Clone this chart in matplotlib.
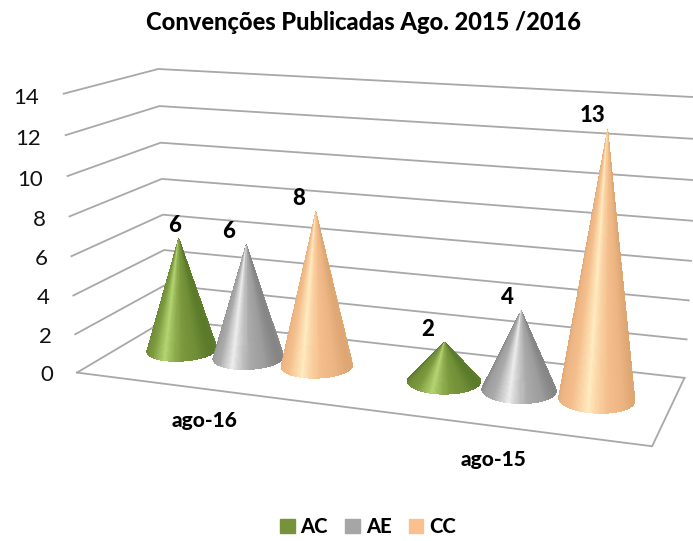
import numpy as np
import matplotlib
matplotlib.use("Agg")
import matplotlib.pyplot as plt
from matplotlib.patches import Patch
from mpl_toolkits.mplot3d import proj3d

plt.rcParams["font.family"] = ["Lato", "DejaVu Sans"]

# data
categories = ["ago-16", "ago-15"]
series_names = ["AC", "AE", "CC"]
ac_values = [6, 2]
ae_values = [6, 4]
cc_values = [8, 13]
z_ticks = [0, 2, 4, 6, 8, 10, 12, 14]

legend_colors = ["#76933C", "#A6A6A6", "#FAC090"]
# dark edge, body, highlight of every cone
shades = [("#5B7A2A", "#7C9A3E", "#B4D472"),
          ("#858585", "#ABABAB", "#EDEDED"),
          ("#DDA673", "#F5BF8D", "#FFEBC0")]
# labels do not sit exactly over the tips, offset in points per category/series
label_nudge = [[-3, -13, -12], [-12, -10, -11]]
category_nudge = [0.12, 0.074]


def to_rgb(c):
    return np.array(matplotlib.colors.to_rgb(c))


def cone(ax, x, y, height, rx, ry, shade, zorder):
    theta = np.linspace(0, 2 * np.pi, 181)
    s = np.array([0.0, 1.0])
    T, S = np.meshgrid(theta, s)
    X = x + rx * (1 - S) * np.cos(T)
    Y = y + ry * (1 - S) * np.sin(T)
    Z = S * height
    mid = (theta[:-1] + theta[1:]) / 2
    u = np.abs(np.cos(mid))
    dark, body, light = [to_rgb(c) for c in shade]
    colors = np.zeros((1, len(mid), 4))
    for i in range(3):
        colors[0, :, i] = np.interp(u, [0, 0.12, 0.45, 0.8, 1],
                                    [light[i], light[i] * 0.7 + body[i] * 0.3, body[i],
                                     body[i] * 0.6 + dark[i] * 0.4, dark[i]])
    colors[0, :, 3] = 1
    surf = ax.plot_surface(X, Y, Z, facecolors=colors, rstride=1, cstride=1,
                           shade=False, linewidth=0.3, edgecolor="none", antialiased=False,
                           zorder=zorder)
    surf.set_clip_on(False)


fig = plt.figure(figsize=(6.93, 5.41), dpi=100)
ax = fig.add_axes([0.0382, 0.0454, 1, 1], projection="3d", computed_zorder=False)
ax.set_xlim(0, 2)
ax.set_ylim(0, 1)
ax.set_zlim(0, 14)
ax.set_proj_type("persp", focal_length=0.5119)
ax.view_init(elev=13.954, azim=-70.5685, roll=-0.1986)
ax.set_box_aspect((2.9854, 1, 1.4589), zoom=1.2294)
ax.set_axis_off()


def label(x, y, z, s, dx=0, **kw):
    # text placed at the projected point, 3d text has no usable extent
    px, py, _ = proj3d.proj_transform(x, y, z, ax.get_proj())
    ax.annotate(s, (px, py), xytext=(dx, 0), textcoords="offset points",
                annotation_clip=False, **kw)


grid_color = "#A8A8A8"
for v in z_ticks:
    ax.plot([0, 0, 2], [0, 1, 1], [v, v, v], color=grid_color, lw=1.3, zorder=1, clip_on=False)
    label(-0.095, 0, v - 0.28, str(v), ha="right", va="center", fontsize=16, color="#111111")
ax.plot([0, 2, 2], [0, 0, 1], [0, 0, 0], color=grid_color, lw=1.3, zorder=1, clip_on=False)

all_values = [ac_values, ae_values, cc_values]
pitch = 0.265
for c in range(len(categories)):
    cx = c + 0.5
    for s, vals in enumerate(all_values):
        x = cx - 0.008 + (s - 1) * pitch
        cone(ax, x, 0.53, vals[c], 0.125, 0.2, shades[s], 2 + c * 3 + s)
        label(x, 0.53, vals[c] + 0.12, str(vals[c]), dx=label_nudge[c][s], ha="center", va="bottom",
              fontsize=16, fontweight=900, color="black", zorder=20)
    label(cx + category_nudge[c], -0.4, 0, categories[c], ha="center", va="center", fontsize=15,
          fontweight=900, color="black")

fig.text(0.524, 0.959, "Convenções Publicadas Ago. 2015 /2016", ha="center", va="center",
         fontsize=17, fontweight=900, color="black")

handles = [Patch(color=col, label=n) for col, n in zip(legend_colors, series_names)]
fig.legend(handles=handles, loc="center", bbox_to_anchor=(0.531, 0.0265), ncol=3, frameon=False,
           prop={"weight": 900, "size": 14.5}, handlelength=0.72, handleheight=0.72,
           handletextpad=0.3, columnspacing=0.85, borderpad=0)

fig.savefig("out.png", dpi=100)
